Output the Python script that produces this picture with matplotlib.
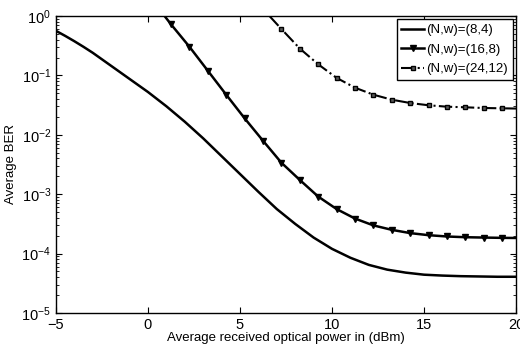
import numpy as np
import matplotlib
matplotlib.use("Agg")
import matplotlib.pyplot as plt
from matplotlib.ticker import LogLocator, NullFormatter

plt.rcParams['font.family'] = ['Liberation Sans', 'DejaVu Sans']
plt.rcParams['mathtext.default'] = 'regular'

# (N,w)=(8,4) : solid line, no markers  (log10 BER)
p_84 = [-5, -4.5, -4, -3.5, -3, -2, -1, 0, 1, 2, 3, 4, 5, 6, 7, 8, 9, 10,
        11, 12, 13, 14, 15, 16, 17, 18, 19, 20]
log_ber_84 = [-0.25, -0.335, -0.425, -0.52, -0.62, -0.84, -1.06, -1.28, -1.52, -1.78,
              -2.06, -2.36, -2.66, -2.96, -3.25, -3.50, -3.73, -3.92, -4.07, -4.19,
              -4.27, -4.32, -4.355, -4.37, -4.38, -4.385, -4.39, -4.39]

# (N,w)=(16,8) : line with down triangles
p_168 = [0.9, 1.25, 2.25, 3.25, 4.25, 5.25, 6.25, 7.25, 8.25, 9.25, 10.25, 11.25,
         12.25, 13.25, 14.25, 15.25, 16.25, 17.25, 18.25, 19.25, 20]
log_ber_168 = [0.0, -0.14, -0.517, -0.921, -1.325, -1.722, -2.10, -2.47, -2.76, -3.04,
               -3.25, -3.41, -3.525, -3.60, -3.655, -3.69, -3.712, -3.724, -3.73,
               -3.735, -3.737]

# (N,w)=(24,12) : dash-dot with squares
p_2412 = [6.6, 7.25, 8.25, 9.25, 10.25, 11.25, 12.25, 13.25, 14.25, 15.25, 16.25,
          17.25, 18.25, 19.25, 20]
log_ber_2412 = [0.0, -0.219, -0.548, -0.813, -1.042, -1.207, -1.325, -1.409, -1.465,
                -1.503, -1.527, -1.537, -1.549, -1.554, -1.558]

labels = ['(N,w)=(8,4)', '(N,w)=(16,8)', '(N,w)=(24,12)']

fig = plt.figure(figsize=(5.2, 3.52), dpi=100)
ax = fig.add_axes([56 / 520, 1 - 313 / 352, 460 / 520, 297 / 352])

ax.semilogy(p_84, 10 ** np.array(log_ber_84), '-', color='k', lw=1.8, label=labels[0])
ax.semilogy(p_168, 10 ** np.array(log_ber_168), '-', color='k', lw=1.8, marker='v',
            ms=5, markevery=list(range(1, len(p_168) - 1)), label=labels[1])
ax.semilogy(p_2412, 10 ** np.array(log_ber_2412), '-.', color='k', lw=1.5, marker='s',
            ms=3.5, mfc='0.35', mec='k', markevery=list(range(1, len(p_2412) - 1)),
            label=labels[2])

ax.set_xlim(-5, 20)
ax.set_ylim(1e-5, 1)
ax.set_xticks([-5, 0, 5, 10, 15, 20])
ax.yaxis.set_major_locator(LogLocator(base=10, numticks=10))
ax.yaxis.set_minor_locator(LogLocator(base=10, subs=np.arange(2, 10), numticks=10))
ax.yaxis.set_minor_formatter(NullFormatter())
ax.tick_params(which='both', direction='in', top=True, right=True, labelsize=10.5)
ax.tick_params(which='major', length=4)
ax.tick_params(which='minor', length=2)
for s in ax.spines.values():
    s.set_linewidth(1.0)

ax.set_xlabel('Average received optical power in (dBm)', fontsize=9.5, labelpad=0)
ax.set_ylabel('Average BER', fontsize=9.5, labelpad=3)

leg = ax.legend(loc='upper right', fontsize=9.5, fancybox=False, edgecolor='k',
                framealpha=1, borderpad=0.35, labelspacing=0.55, handlelength=1.7,
                handletextpad=0.2, borderaxespad=0.25)
leg.get_frame().set_linewidth(1.0)

fig.savefig('out.png', dpi=100)
